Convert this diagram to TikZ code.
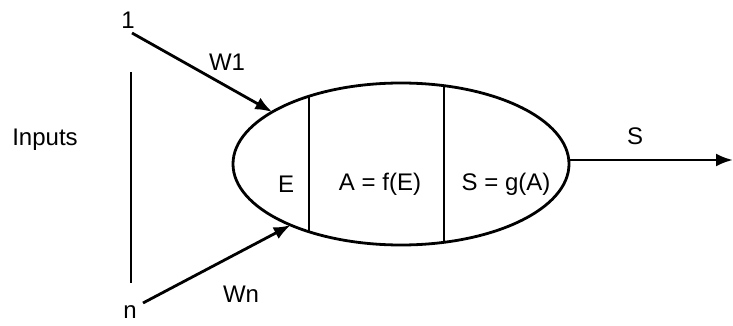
\documentclass[tikz,border=0pt]{standalone}
\usepackage{fontspec}
\setmainfont{Liberation Sans}
\usetikzlibrary{arrows.meta,shapes.geometric}

\begin{document}
\begin{tikzpicture}[x=1pt,y=-1pt,font=\fontsize{24}{28}\selectfont,line width=2.8pt,lbl/.style={inner sep=0pt},arr/.style={-{Latex[length=17pt,width=13pt]}}]
\useasboundingbox (0,0) rectangle (733,326);
\node[draw,ellipse,minimum width=336,minimum height=162,inner sep=0pt,outer sep=0pt] (cell) at (401,164) {};
\begin{scope}
\clip (401,164) ellipse (168 and 81);
\draw (309,60)--(309,270);\draw (444,60)--(444,270);
\end{scope}
\node[lbl] (e) at (286,184) {E};
\node[lbl] (act) at (380,184) {A = f(E)};
\node[lbl] (sig) at (506,184) {S = g(A)};
\node[lbl] (inputs) at (45,140) {Inputs};
\node[lbl] (one) at (128,20) {1};
\node[lbl] (n) at (130,312) {n};
\node[lbl] (w1) at (227,62) {W1};
\node[lbl] (wn) at (241,294) {Wn};
\node[lbl] (s) at (635,136) {S};
\coordinate (top) at (131,72);\coordinate (bot) at (131,283);
\coordinate (in1) at (132,33);\coordinate (inn) at (143,303);
\coordinate (out) at (733,160);
\draw (top)--(bot);
\draw[arr] (in1)--(cell.158);
\draw[arr] (inn)--(cell.209);
\draw[arr] (cell.east|-out)--(out);
\end{tikzpicture}
\end{document}
